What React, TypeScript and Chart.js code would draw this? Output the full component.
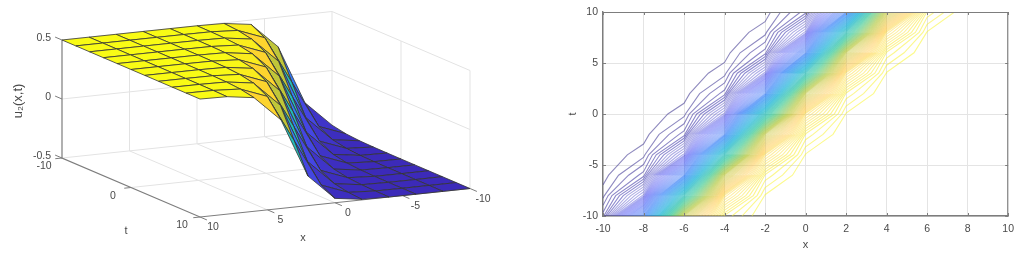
import React, { useEffect, useRef } from "react";
import { Chart, registerables } from "chart.js";

Chart.register(...registerables);

// ---------- data ----------
const xGrid = [-10, -8, -6, -4, -2, 0, 2, 4, 6, 8, 10];
const tGrid = [-10, -8, -6, -4, -2, 0, 2, 4, 6, 8, 10];
// u2(x,t): one row per t, one column per x
const uTable = [
  [-0.463, -0.25, 0.25, 0.463, 0.4955, 0.4995, 0.4999, 0.5, 0.5, 0.5, 0.5],
  [-0.486, -0.4, 0, 0.4, 0.486, 0.4985, 0.4998, 0.5, 0.5, 0.5, 0.5],
  [-0.4955, -0.463, -0.25, 0.25, 0.463, 0.4955, 0.4995, 0.4999, 0.5, 0.5, 0.5],
  [-0.4985, -0.486, -0.4, 0, 0.4, 0.486, 0.4985, 0.4998, 0.5, 0.5, 0.5],
  [-0.4995, -0.4955, -0.463, -0.25, 0.25, 0.463, 0.4955, 0.4995, 0.4999, 0.5, 0.5],
  [-0.4998, -0.4985, -0.486, -0.4, 0, 0.4, 0.486, 0.4985, 0.4998, 0.5, 0.5],
  [-0.4999, -0.4995, -0.4955, -0.463, -0.25, 0.25, 0.463, 0.4955, 0.4995, 0.4999, 0.5],
  [-0.5, -0.4998, -0.4985, -0.486, -0.4, 0, 0.4, 0.486, 0.4985, 0.4998, 0.5],
  [-0.5, -0.4999, -0.4995, -0.4955, -0.463, -0.25, 0.25, 0.463, 0.4955, 0.4995, 0.4999],
  [-0.5, -0.5, -0.4998, -0.4985, -0.486, -0.4, 0, 0.4, 0.486, 0.4985, 0.4998],
  [-0.5, -0.5, -0.4999, -0.4995, -0.4955, -0.463, -0.25, 0.25, 0.463, 0.4955, 0.4995],
];
const surfaceXTicks = [10, 5, 0, -5, -10];
const surfaceTTicks = [-10, 0, 10];
const surfaceUTicks = [-0.5, 0, 0.5];
const levelFirst = -0.491;
const levelStep = 0.008;
const levelCount = 123;

// parula colormap stops
const parula: [number, number, number][] = [
  [60, 42, 185], [72, 82, 244], [46, 135, 247], [18, 177, 214],
  [55, 200, 151], [171, 199, 57], [254, 195, 56], [249, 251, 21],
];

function parulaRgb(u: number): [number, number, number] {
  const f = Math.min(0.9999, Math.max(0, u + 0.5)) * (parula.length - 1);
  const i = Math.floor(f);
  const r = f - i;
  const a = parula[i];
  const b = parula[i + 1];
  return [0, 1, 2].map((k) => Math.round(a[k] + (b[k] - a[k]) * r)) as [number, number, number];
}

// Oblique view used for the surface, read from the box corners
function project(x: number, t: number, u: number) {
  return {
    x: 62 + ((10 - x) / 20) * 270 + ((t + 10) / 20) * 138,
    y: 158 - ((10 - x) / 20) * 28.5 + ((t + 10) / 20) * 59 - (u + 0.5) * 118,
  };
}

const FONT = "'Liberation Sans', Arial, sans-serif";
const TEXT = "#4a4a4a";

function line(pts: { x: number; y: number }[], color: string, width: number) {
  return {
    data: pts, showLine: true, pointRadius: 0, borderColor: color, borderWidth: width,
    tension: 0, fill: false, clip: false,
  };
}

function surfaceDatasets() {
  const ds: any[] = [];
  const gridC = "#e3e3e3";
  const axisC = "#7d7d7d";
  // back walls and floor
  for (const u of surfaceUTicks) {
    ds.push(line([project(10, -10, u), project(-10, -10, u), project(-10, 10, u)], gridC, 1));
  }
  for (const x of [5, 0, -5]) {
    ds.push(line([project(x, 10, -0.5), project(x, -10, -0.5), project(x, -10, 0.5)], gridC, 1));
  }
  ds.push(line([project(-10, -10, -0.5), project(-10, -10, 0.5)], gridC, 1));
  ds.push(line([project(10, 0, -0.5), project(-10, 0, -0.5), project(-10, 0, 0.5)], gridC, 1));
  ds.push(line([project(-10, 10, -0.5), project(-10, 10, 0.5)], gridC, 1));
  // axes
  ds.push(line([project(10, -10, 0.5), project(10, -10, -0.5), project(10, 10, -0.5), project(-10, 10, -0.5)], axisC, 1.2));
  for (const u of surfaceUTicks) ds.push(line([project(10, -10, u), project(10, -11, u)], axisC, 1));
  for (const t of surfaceTTicks) ds.push(line([project(10, t, -0.5), project(10.5, t, -0.5)], axisC, 1));
  for (const x of surfaceXTicks) ds.push(line([project(x, 10, -0.5), project(x, 11, -0.5)], axisC, 1));
  // surface quads, far to near
  for (let i = 0; i < tGrid.length - 1; i++) {
    for (let j = 0; j < xGrid.length - 1; j++) {
      const c = parulaRgb(uTable[i][j]);
      const p = (a: number, b: number) => project(xGrid[b], tGrid[a], uTable[a][b]);
      ds.push({
        data: [p(i, j), p(i, j + 1), p(i + 1, j + 1), p(i + 1, j), p(i, j)],
        showLine: true, pointRadius: 0, tension: 0, clip: false,
        fill: "shape",
        backgroundColor: `rgb(${c[0]},${c[1]},${c[2]})`,
        borderColor: "#333333", borderWidth: 0.8,
      });
    }
  }
  return ds.reverse();
}

function contourDatasets() {
  const ds: any[] = [];
  for (let l = 0; l < levelCount; l++) {
    const level = levelFirst + l * levelStep;
    const pts: { x: number; y: number }[] = [];
    const cross = (x0: number, t0: number, a: number, x1: number, t1: number, b: number) => {
      if ((a - level) * (b - level) < 0) {
        const f = (level - a) / (b - a);
        pts.push({ x: x0 + (x1 - x0) * f, y: t0 + (t1 - t0) * f });
      }
    };
    for (let i = 0; i < tGrid.length; i++) {
      for (let j = 0; j < xGrid.length; j++) {
        if (j + 1 < xGrid.length) cross(xGrid[j], tGrid[i], uTable[i][j], xGrid[j + 1], tGrid[i], uTable[i][j + 1]);
        if (i + 1 < tGrid.length) cross(xGrid[j], tGrid[i], uTable[i][j], xGrid[j], tGrid[i + 1], uTable[i + 1][j]);
      }
    }
    pts.sort((a, b) => a.x + a.y - (b.x + b.y));
    const c = parulaRgb(level);
    // the lowest levels read greyer in the picture, the dense middle paler
    const grey = Math.max(0, 1 - (level + 0.5) / 0.12) * 0.45;
    const mix = (v: number) => Math.round(v * (1 - grey) + 95 * grey);
    const alpha = level < -0.44 ? 0.62 : level > 0.44 ? 0.5 : 0.44;
    ds.push({
      data: pts, showLine: true, pointRadius: 0, tension: 0, fill: false,
      borderColor: `rgba(${mix(c[0])},${mix(c[1])},${mix(c[2])},${alpha})`, borderWidth: 1.1,
    });
  }
  return ds;
}

const surfaceLabels = {
  id: "surfaceLabels",
  afterDraw(chart: any) {
    const { ctx, scales } = chart;
    const px = (p: { x: number; y: number }, dx: number, dy: number) => [
      scales.x.getPixelForValue(p.x) + dx,
      scales.y.getPixelForValue(p.y) + dy,
    ];
    ctx.save();
    ctx.fillStyle = TEXT;
    ctx.font = `10.5px ${FONT}`;
    ctx.textBaseline = "middle";
    ctx.textAlign = "right";
    for (const u of surfaceUTicks) {
      const [a, b] = px(project(10, -10, u), -11, -2);
      ctx.fillText(String(u), a, b);
    }
    ctx.textAlign = "center";
    for (const t of surfaceTTicks) {
      const [a, b] = px(project(10, t, -0.5), -18, 8.5);
      ctx.fillText(String(t), a, b);
    }
    for (const x of surfaceXTicks) {
      const [a, b] = px(project(x, 10, -0.5), 13, 10.5);
      ctx.fillText(String(x), a, b);
    }
    ctx.font = `11px ${FONT}`;
    ctx.fillText("x", 303, 238);
    ctx.fillText("t", 126, 231);
    ctx.translate(18, 101);
    ctx.rotate(-Math.PI / 2);
    ctx.font = `13px ${FONT}`;
    ctx.fillText("u\u2082(x,t)", 0, 0);
    ctx.restore();
  },
};

const contourFrame = {
  id: "contourFrame",
  afterDraw(chart: any) {
    const { ctx, scales, chartArea: a } = chart;
    ctx.save();
    ctx.strokeStyle = "#7d7d7d";
    ctx.lineWidth = 1;
    ctx.beginPath();
    ctx.moveTo(a.left, a.top + 0.5);
    ctx.lineTo(a.right - 0.5, a.top + 0.5);
    ctx.lineTo(a.right - 0.5, a.bottom);
    for (const tick of scales.x.ticks) {
      const p = Math.round(scales.x.getPixelForValue(tick.value));
      ctx.moveTo(p + 0.5, a.top);
      ctx.lineTo(p + 0.5, a.top + 3);
      ctx.moveTo(p + 0.5, a.bottom);
      ctx.lineTo(p + 0.5, a.bottom - 3);
    }
    for (const tick of scales.y.ticks) {
      const p = Math.round(scales.y.getPixelForValue(tick.value));
      ctx.moveTo(a.left, p + 0.5);
      ctx.lineTo(a.left + 3, p + 0.5);
      ctx.moveTo(a.right, p + 0.5);
      ctx.lineTo(a.right - 3, p + 0.5);
    }
    ctx.stroke();
    ctx.restore();
  },
};

export default function App() {
  const leftRef = useRef<HTMLCanvasElement>(null);
  const rightRef = useRef<HTMLCanvasElement>(null);

  useEffect(() => {
    document.body.style.background = "#fff";
    const base = {
      responsive: false,
      animation: false as const,
      events: [] as any[],
      plugins: { legend: { display: false }, tooltip: { enabled: false } },
    };
    const left = new Chart(leftRef.current!, {
      type: "scatter",
      data: { datasets: surfaceDatasets() },
      options: {
        ...base,
        layout: { padding: 0 },
        scales: {
          x: { type: "linear", min: 0, max: 540, display: false },
          y: { type: "linear", min: 0, max: 253, reverse: true, display: false },
        },
      },
      plugins: [surfaceLabels],
    } as any);
    const tickFont = { family: FONT, size: 10.5 };
    const right = new Chart(rightRef.current!, {
      type: "scatter",
      data: { datasets: contourDatasets() },
      options: {
        ...base,
        layout: { padding: { top: 12, right: 12, left: 0, bottom: 0 } },
        scales: {
          x: {
            type: "linear", min: -10, max: 10,
            afterFit: (s: any) => { s.height = 37; },
            ticks: { stepSize: 2, font: tickFont, color: TEXT, padding: 7, maxRotation: 0, autoSkip: false },
            grid: { color: "#e4e4e4", drawTicks: false, lineWidth: 1 },
            border: { color: "#7d7d7d", width: 1.4 },
            title: { display: true, text: "x", color: TEXT, font: { family: FONT, size: 11 }, padding: { top: 0, bottom: 1 } },
          },
          y: {
            type: "linear", min: -10, max: 10,
            afterFit: (s: any) => { s.width = 63; },
            ticks: { stepSize: 5, font: tickFont, color: TEXT, padding: 5, autoSkip: false },
            grid: { color: "#e4e4e4", drawTicks: false, lineWidth: 1 },
            border: { color: "#7d7d7d", width: 1.4 },
            title: { display: true, text: "t", color: TEXT, font: { family: FONT, size: 11 }, padding: { top: 26, bottom: 0 } },
          },
        },
      },
      plugins: [contourFrame],
    } as any);
    return () => {
      left.destroy();
      right.destroy();
    };
  }, []);

  const blur = "blur(0.6px)";
  return (
    <div style={{ position: "absolute", left: 0, top: 0, width: 1021, height: 253, overflow: "hidden", background: "#fff" }}>
      <canvas ref={leftRef} width={540} height={253} style={{ position: "absolute", left: 0, top: 0, filter: blur }} />
      <canvas ref={rightRef} width={481} height={253} style={{ position: "absolute", left: 540, top: 0, filter: blur }} />
    </div>
  );
}
